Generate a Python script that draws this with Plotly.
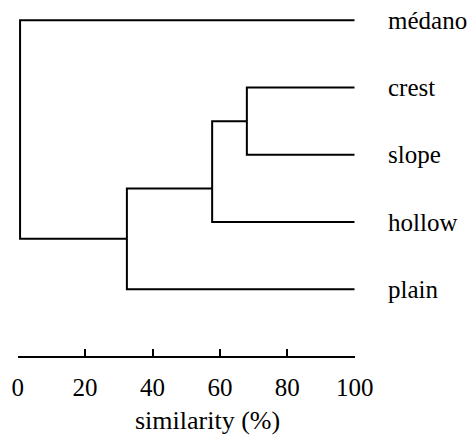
import plotly.graph_objects as go

# Leaves (top to bottom) and their row index
leaves = ["médano", "crest", "slope", "hollow", "plain"]
leaf_rows = [0, 1, 2, 3, 4]

# Merge nodes: similarity (%) at which clusters join
sim_crest_slope = 68.0
sim_hollow = 57.7
sim_plain = 32.4
sim_root = 0.7
leaf_end = 100.0

# vertical position (row units) of each internal node's stem
row_crest_slope = 1.5
row_hollow_node = 2.5
row_plain_node = 3.25

ticks = [0, 20, 40, 60, 80, 100]

segments = [
    ([leaf_end, sim_crest_slope, sim_crest_slope, leaf_end], [leaf_rows[1], leaf_rows[1], leaf_rows[2], leaf_rows[2]]),
    ([sim_crest_slope, sim_hollow, sim_hollow, leaf_end], [row_crest_slope, row_crest_slope, leaf_rows[3], leaf_rows[3]]),
    ([sim_hollow, sim_plain, sim_plain, leaf_end], [row_hollow_node, row_hollow_node, leaf_rows[4], leaf_rows[4]]),
    ([leaf_end, sim_root, sim_root, sim_plain], [leaf_rows[0], leaf_rows[0], row_plain_node, row_plain_node]),
]

# page body has an 8px default margin; figure sized to fit the window
OFF = 8
W, H = 476 - OFF, 441 - OFF


def px(v):
    return v - OFF


fig = go.Figure()
for xs, ys in segments:
    fig.add_trace(go.Scatter(x=xs, y=ys, mode="lines",
                             line=dict(color="black", width=2),
                             hoverinfo="skip", showlegend=False, cliponaxis=False))

font = "Liberation Serif"
for name, r in zip(leaves, leaf_rows):
    fig.add_annotation(x=px(386) / W, xref="paper", y=r, yref="y", text=name,
                       showarrow=False, xanchor="left", yanchor="middle",
                       font=dict(family=font, size=25, color="black"))

fig.add_annotation(x=px(207.5) / W, xref="paper", y=1 - px(420) / H, yref="paper",
                   text="similarity (%)", showarrow=False, xanchor="center",
                   yanchor="middle", font=dict(family=font, size=26, color="black"))

row_px = 67.25
top_px = px(20.3)
fig.update_layout(
    width=W, height=H, margin=dict(l=0, r=0, t=0, b=0, autoexpand=False),
    paper_bgcolor="white", plot_bgcolor="white",
    xaxis=dict(domain=[px(17.7) / W, px(354.7) / W], range=[0, 100], tickvals=ticks,
               showgrid=False, zeroline=False, showline=True, linecolor="black",
               linewidth=2, ticks="inside", ticklen=7, tickwidth=2, tickcolor="black",
               anchor="free", position=1 - px(356.7) / H, automargin=False,
               tickfont=dict(family=font, size=25, color="black"),
               ticklabelstandoff=8),
    yaxis=dict(domain=[0, 1], range=[(H - top_px) / row_px, -top_px / row_px],
               visible=False, showgrid=False, zeroline=False, automargin=False),
)

fig.write_html("out.html")
